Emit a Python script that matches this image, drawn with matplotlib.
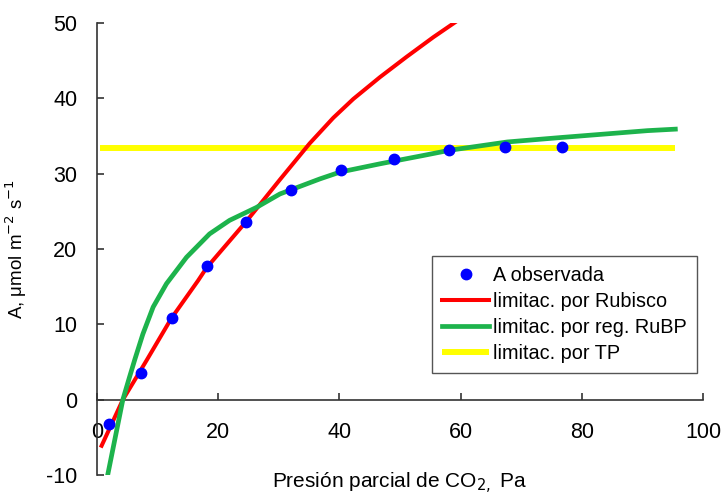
import matplotlib
matplotlib.use("Agg")
import matplotlib.pyplot as plt

# observed assimilation
obs_x = [2.1, 7.3, 12.4, 18.2, 24.6, 32.0, 40.3, 49.0, 58.1, 67.3, 76.7]
obs_y = [-3.2, 3.5, 10.8, 17.8, 23.6, 27.8, 30.5, 31.9, 33.1, 33.5, 33.5]

# Rubisco-limited curve
rubisco_x = [0.8, 4.3, 8.2, 12.3, 16.7, 18.1, 24.6, 30.2, 35.1, 39.0, 42.3, 46.7,
             51.1, 55.5, 60.4]
rubisco_y = [-6.1, 0.0, 5.2, 10.8, 15.8, 17.5, 23.6, 29.2, 34.0, 37.4, 39.9, 42.8,
             45.5, 48.1, 50.8]

# RuBP regeneration-limited curve
rubp_x = [1.6, 3.5, 4.3, 5.4, 6.3, 7.6, 9.3, 11.5, 14.8, 18.6, 21.9, 26.3, 30.2,
          36.8, 40.1, 46.7, 53.8, 58.2, 67.7, 76.7, 90.8, 95.4]
rubp_y = [-10.8, -3.2, 0.0, 3.0, 5.4, 8.7, 12.3, 15.4, 18.9, 22.0, 23.8, 25.5, 27.3,
          29.3, 30.2, 31.3, 32.4, 33.1, 34.2, 34.8, 35.7, 35.9]

# triose-phosphate limit
tp_x = [0.5, 95.4]
tp_y = [33.4, 33.4]

x_ticks = [0, 20, 40, 60, 80, 100]
y_ticks = [-10, 0, 10, 20, 30, 40, 50]

plt.rcParams["font.family"] = ["Liberation Sans", "DejaVu Sans"]
plt.rcParams["axes.unicode_minus"] = False

fig = plt.figure(figsize=(7.22, 4.97), dpi=100)
ax = fig.add_axes([0.134, 0.044, 0.840, 0.910])

ax.plot(tp_x, tp_y, color="#FFFF00", linewidth=4.3, solid_capstyle="butt",
        label="limitac. por TP", zorder=2)
ax.plot(rubisco_x, rubisco_y, color="#FF0000", linewidth=2.9,
        label="limitac. por Rubisco", zorder=3)
ax.plot(rubp_x, rubp_y, color="#1DB34C", linewidth=3.4,
        label="limitac. por reg. RuBP", zorder=4)
ax.plot(obs_x, obs_y, linestyle="none", marker="o", markersize=7.5,
        color="#0000FF", label="A observada", zorder=5)

ax.set_xlim(0, 100)
ax.set_ylim(-10, 50)
ax.set_xticks(x_ticks)
ax.set_yticks(y_ticks)

ax.spines["top"].set_visible(False)
ax.spines["right"].set_visible(False)
ax.spines["bottom"].set_position(("data", 0))
for side in ("left", "bottom"):
    ax.spines[side].set_color("#333333")
    ax.spines[side].set_linewidth(1.2)

ax.tick_params(axis="x", direction="in", length=5, width=1.2, color="#333333",
               labelsize=15.5, pad=16)
ax.tick_params(axis="y", direction="in", length=5, width=1.2, color="#333333",
               labelsize=15.5, pad=14)

ax.set_ylabel(r"A, μmol m$^{-2}$ s$^{-1}$", fontsize=13.5, labelpad=12)
ax.set_xlabel(r"Presión parcial de CO$_{2,}$ Pa", fontsize=15, va="bottom")
ax.xaxis.set_label_coords(0.5, -0.046)

handles, labels = ax.get_legend_handles_labels()
order = [3, 1, 2, 0]
leg = ax.legend([handles[i] for i in order], [labels[i] for i in order],
                loc="lower right", bbox_to_anchor=(0.9654, 0.2495),
                bbox_transform=fig.transFigure, borderaxespad=0,
                fontsize=14.3, handlelength=2.4, handletextpad=0.2,
                labelspacing=0.35, fancybox=False, framealpha=1,
                edgecolor="#555555", borderpad=0.5)
leg.get_frame().set_linewidth(1.0)

fig.savefig("out.png", dpi=100)
